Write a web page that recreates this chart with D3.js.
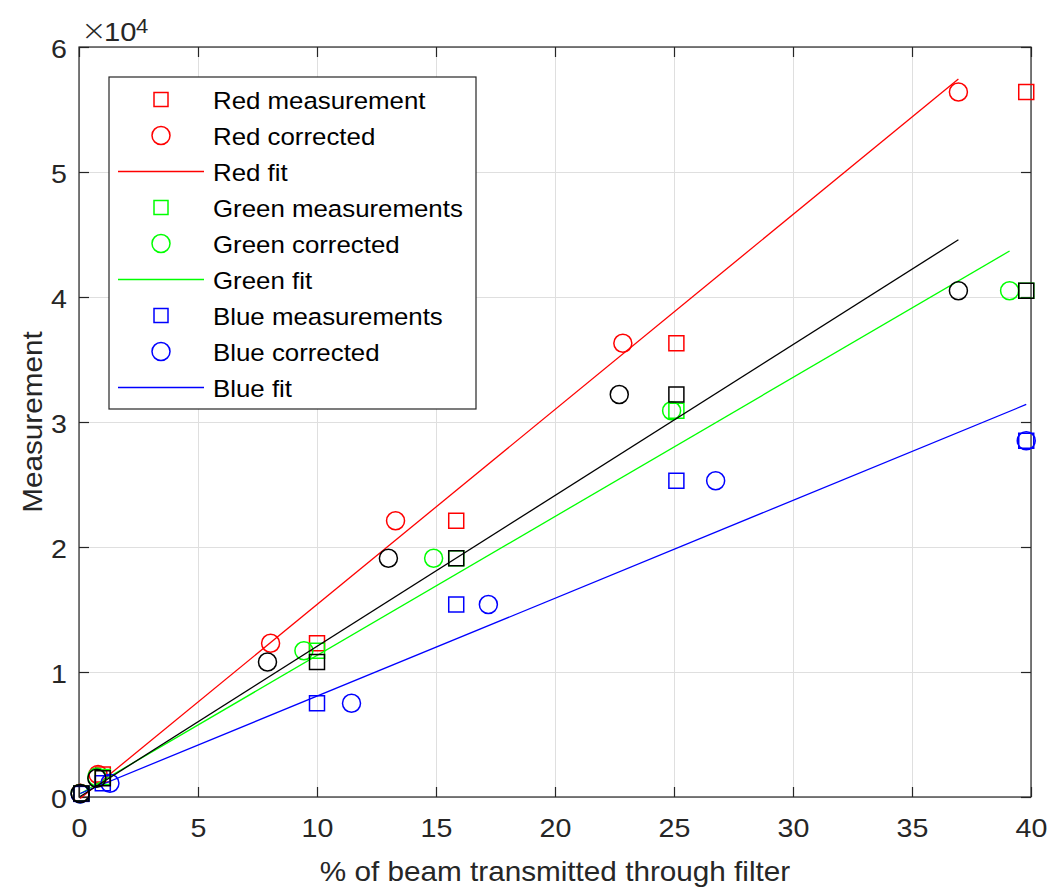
<!DOCTYPE html>
<html>
<head>
<meta charset="utf-8">
<script src="https://cdn.jsdelivr.net/npm/d3@7"></script>
<style>
body { margin: 0; background: #fff; }
svg { display: block; font-family: "Liberation Sans", Arial, sans-serif; }
</style>
</head>
<body>
<script>
// % of beam transmitted (ND filters)
const transmission = [0.1, 1, 10, 15.85, 25.1, 39.8];

const redMeasured = [300, 1800, 12300, 22100, 36300, 56400];
const redCorrectedX = [0.05, 0.8, 8.05, 13.3, 22.85, 36.95];
const greenMeasured = [280, 1600, 11700, 19100, 30900, 40500];
const greenCorrectedX = [0.05, 0.75, 9.45, 14.9, 24.9, 39.1];
const blueMeasured = [250, 1100, 7500, 15400, 25300, 28500];
const blueCorrectedX = [0.05, 1.3, 11.45, 17.2, 26.75, 39.8];
const blackMeasured = [280, 1500, 10800, 19100, 32200, 40500];
const blackCorrectedX = [0.05, 0.75, 7.92, 13.0, 22.7, 36.95];

// linear fits: [slope, intercept]
const redFit = [1560, -200];
const greenFit = [1112, 200];
const blueFit = [783, 240];
const blackFit = [1207, -20];

const xTickValues = [0, 5, 10, 15, 20, 25, 30, 35, 40];
const yTickValues = [0, 10000, 20000, 30000, 40000, 50000, 60000];
const yTickLabels = ['0', '1', '2', '3', '4', '5', '6'];

const legendNames = ['Red measurement', 'Red corrected', 'Red fit',
  'Green measurements', 'Green corrected', 'Green fit',
  'Blue measurements', 'Blue corrected', 'Blue fit'];

const width = 1049, height = 891;
const box = {left: 79, top: 47, right: 1031, bottom: 797};
const ink = '#262626';
const stretch = 1.1;

const svg = d3.select('body').append('svg')
  .attr('width', width)
  .attr('height', height);

const x = d3.scaleLinear().domain([0, 40]).range([box.left, box.right]);
const y = d3.scaleLinear().domain([0, 60000]).range([box.bottom, box.top]);

function label(str, px, py, size, anchor, rot) {
  return svg.append('text')
    .text(str)
    .attr('transform', `translate(${px},${py}) rotate(${rot || 0}) scale(${stretch},1)`)
    .attr('text-anchor', anchor)
    .attr('font-size', size)
    .attr('fill', ink);
}

// grid
svg.append('g')
  .attr('transform', `translate(0,${box.bottom})`)
  .call(d3.axisBottom(x).tickValues(xTickValues).tickSize(-(box.bottom - box.top)).tickFormat(''))
  .call(g => g.select('.domain').remove())
  .selectAll('line').attr('stroke', '#dfdfdf');
svg.append('g')
  .attr('transform', `translate(${box.left},0)`)
  .call(d3.axisLeft(y).tickValues(yTickValues).tickSize(-(box.right - box.left)).tickFormat(''))
  .call(g => g.select('.domain').remove())
  .selectAll('line').attr('stroke', '#dfdfdf');

// axes
const xAxis = svg.append('g')
  .attr('transform', `translate(0,${box.bottom})`)
  .call(d3.axisBottom(x).tickValues(xTickValues).tickSize(-10).tickPadding(22).tickSizeOuter(0));
const yAxis = svg.append('g')
  .attr('transform', `translate(${box.left},0)`)
  .call(d3.axisLeft(y).tickValues(yTickValues).tickSize(-10).tickPadding(11).tickSizeOuter(0)
    .tickFormat((d, i) => yTickLabels[i]));
svg.append('g')
  .attr('transform', `translate(0,${box.top})`)
  .call(d3.axisTop(x).tickValues(xTickValues).tickSize(-10).tickFormat('').tickSizeOuter(0));
svg.append('g')
  .attr('transform', `translate(${box.right},0)`)
  .call(d3.axisRight(y).tickValues(yTickValues).tickSize(-10).tickFormat('').tickSizeOuter(0));

svg.selectAll('.tick line').filter(function() { return this.getAttribute('stroke') !== '#dfdfdf'; })
  .attr('stroke', ink).attr('stroke-width', 1.2);
svg.selectAll('.domain').remove();
xAxis.selectAll('text').attr('font-size', 26).attr('fill', ink)
  .attr('font-family', '"Liberation Sans", Arial, sans-serif')
  .attr('transform', `scale(${stretch},1)`);
yAxis.selectAll('text').attr('font-size', 26).attr('fill', ink)
  .attr('font-family', '"Liberation Sans", Arial, sans-serif')
  .attr('dy', '0.42em')
  .attr('transform', `scale(${stretch},1)`);

svg.append('rect')
  .attr('x', box.left).attr('y', box.top)
  .attr('width', box.right - box.left).attr('height', box.bottom - box.top)
  .attr('fill', 'none').attr('stroke', ink).attr('stroke-width', 1.2);

// labels
label('% of beam transmitted through filter', (box.left + box.right) / 2, 881, 27, 'middle');
label('Measurement', 42, (box.top + box.bottom) / 2, 27, 'middle', -90);
label('\u00d7', 81, 40, 28, 'start').attr('font-family', '"DejaVu Sans", sans-serif').attr('font-weight', 200);
label('10', 104, 41, 26.5, 'start');
label('4', 136, 33, 20, 'start');

// series
const plot = svg.append('g');

function squares(xs, ys, color) {
  plot.selectAll(null).data(d3.zip(xs, ys)).enter().append('rect')
    .attr('x', d => x(d[0]) - 7.5).attr('y', d => y(d[1]) - 7.5)
    .attr('width', 15).attr('height', 15)
    .attr('fill', 'none').attr('stroke', color).attr('stroke-width', 1.5);
}
function circles(xs, ys, color) {
  plot.selectAll(null).data(d3.zip(xs, ys)).enter().append('circle')
    .attr('cx', d => x(d[0])).attr('cy', d => y(d[1])).attr('r', 9)
    .attr('fill', 'none').attr('stroke', color).attr('stroke-width', 1.5);
}
function fitLine(xs, fit, color) {
  const ends = d3.extent(xs);
  plot.append('path')
    .datum(ends.map(v => [v, fit[0] * v + fit[1]]))
    .attr('d', d3.line().x(d => x(d[0])).y(d => y(d[1])))
    .attr('fill', 'none').attr('stroke', color).attr('stroke-width', 1.3);
}

squares(transmission, redMeasured, '#ff0000');
circles(redCorrectedX, redMeasured, '#ff0000');
fitLine(redCorrectedX, redFit, '#ff0000');
squares(transmission, greenMeasured, '#00ff00');
circles(greenCorrectedX, greenMeasured, '#00ff00');
fitLine(greenCorrectedX, greenFit, '#00ff00');
squares(transmission, blueMeasured, '#0000ff');
circles(blueCorrectedX, blueMeasured, '#0000ff');
fitLine(blueCorrectedX, blueFit, '#0000ff');
squares(transmission, blackMeasured, '#000000');
circles(blackCorrectedX, blackMeasured, '#000000');
fitLine(blackCorrectedX, blackFit, '#000000');

// legend
const legendColors = ['#ff0000', '#ff0000', '#ff0000', '#00ff00', '#00ff00', '#00ff00', '#0000ff', '#0000ff', '#0000ff'];
const legendKinds = ['square', 'circle', 'line', 'square', 'circle', 'line', 'square', 'circle', 'line'];
const leg = svg.append('g');
leg.append('rect')
  .attr('x', 109).attr('y', 77).attr('width', 367).attr('height', 332)
  .attr('fill', '#fff').attr('stroke', ink).attr('stroke-width', 1.2);

const rowY = d3.scaleLinear().domain([0, 8]).range([99.5, 387.5]);
legendNames.forEach((name, i) => {
  const cy = rowY(i);
  const c = legendColors[i];
  if (legendKinds[i] === 'square') {
    leg.append('rect').attr('x', 161 - 7).attr('y', cy - 7).attr('width', 14).attr('height', 14)
      .attr('fill', 'none').attr('stroke', c).attr('stroke-width', 1.5);
  } else if (legendKinds[i] === 'circle') {
    leg.append('circle').attr('cx', 161).attr('cy', cy).attr('r', 9)
      .attr('fill', 'none').attr('stroke', c).attr('stroke-width', 1.5);
  } else {
    leg.append('line').attr('x1', 118).attr('x2', 204).attr('y1', cy).attr('y2', cy)
      .attr('stroke', c).attr('stroke-width', 1.3);
  }
  leg.append('text')
    .text(name)
    .attr('transform', `translate(213,${cy + 9.5}) scale(${stretch},1)`)
    .attr('font-size', 23.5)
    .attr('fill', '#000');
});
</script>
</body>
</html>
